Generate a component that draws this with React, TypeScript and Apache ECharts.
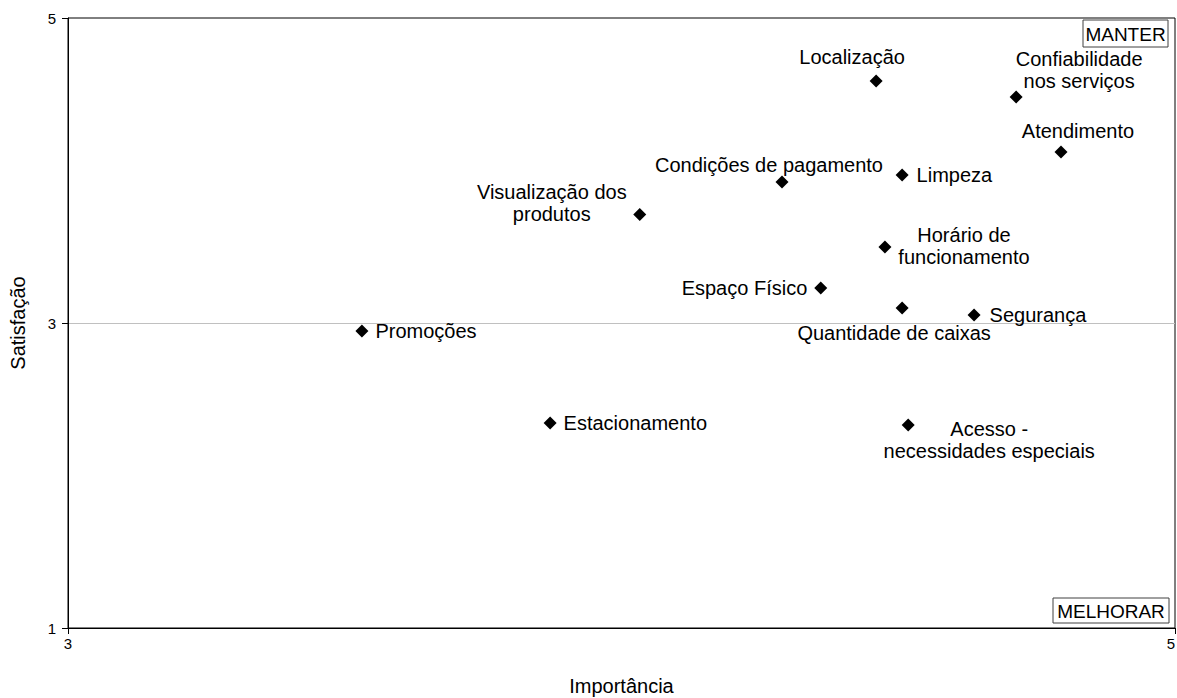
import React, { useEffect, useRef } from "react";
import * as echarts from "echarts";

const attributes: string[] = [
  "Promoções",
  "Estacionamento",
  "Visualização dos\nprodutos",
  "Condições de pagamento",
  "Espaço Físico",
  "Localização",
  "Horário de\nfuncionamento",
  "Limpeza",
  "Quantidade de caixas",
  "Acesso -\nnecessidades especiais",
  "Segurança",
  "Confiabilidade\nnos serviços",
  "Atendimento",
];
const importance: number[] = [3.531, 3.871, 4.033, 4.29, 4.36, 4.46, 4.476, 4.507, 4.507, 4.518, 4.637, 4.713, 4.794];
const satisfaction: number[] = [2.948, 2.344, 3.711, 3.925, 3.23, 4.587, 3.498, 3.97, 3.098, 2.331, 3.052, 4.482, 4.121];
const xTicks = { min: 3, max: 5, step: 2 };
const yTicks = { min: 1, max: 5, step: 2 };

// label placement (style only)
const labelPlacement: any[] = [
  { position: "right", distance: 7 },
  { position: "right", distance: 7 },
  { position: "inside", offset: [-88, -12], align: "center" },
  { position: "inside", offset: [-13, -17], align: "center" },
  { position: "left", distance: 7 },
  { position: "inside", offset: [-24, -24], align: "center" },
  { position: "inside", offset: [79, -1], align: "center" },
  { position: "right", distance: 8 },
  { position: "inside", offset: [-8, 25], align: "center" },
  { position: "inside", offset: [81, 15], align: "center" },
  { position: "right", distance: 9 },
  { position: "inside", offset: [63, -27], align: "center" },
  { position: "inside", offset: [17, -21], align: "center" },
];

const FONT = "'Liberation Sans', Arial, sans-serif";

export default function App() {
  const ref = useRef<HTMLDivElement>(null);
  useEffect(() => {
    document.body.style.margin = "0";
    const chart = echarts.init(ref.current!, null, { renderer: "svg" });
    const data = attributes.map((name, i) => ({
      name,
      value: [importance[i], satisfaction[i]],
      label: {
        show: true,
        formatter: "{b}",
        fontSize: 20,
        lineHeight: 22,
        color: "#000",
        fontFamily: FONT,
        verticalAlign: "middle",
        ...labelPlacement[i],
      },
    }));
    chart.setOption({
      animation: false,
      backgroundColor: "#fff",
      textStyle: { fontFamily: FONT },
      grid: {
        left: 68,
        right: 2,
        top: 18,
        bottom: 70,
        show: true,
        borderColor: "#000",
        borderWidth: 1,
        backgroundColor: "transparent",
        containLabel: false,
        outerBoundsMode: "none",
      },
      xAxis: {
        type: "value",
        min: xTicks.min,
        max: xTicks.max,
        interval: xTicks.step,
        name: "Importância",
        nameLocation: "middle",
        nameGap: 48,
        nameTextStyle: { fontSize: 20, color: "#000", fontFamily: FONT },
        axisLine: { show: true, lineStyle: { color: "#000", width: 1 } },
        axisTick: { show: true, length: 6, lineStyle: { color: "#000" } },
        axisLabel: {
          fontSize: 15,
          color: "#000",
          margin: 8,
          fontFamily: FONT,
          alignMaxLabel: "right",
        },
        splitLine: { show: false },
      },
      yAxis: {
        type: "value",
        min: yTicks.min,
        max: yTicks.max,
        interval: yTicks.step,
        name: "Satisfação",
        nameLocation: "middle",
        nameGap: 40,
        nameRotate: 90,
        nameTextStyle: { fontSize: 20, color: "#000", fontFamily: FONT },
        axisLine: { show: true, lineStyle: { color: "#000", width: 1 } },
        axisTick: { show: true, length: 6, lineStyle: { color: "#000" } },
        axisLabel: { fontSize: 15, color: "#000", margin: 12, fontFamily: FONT },
        splitLine: {
          show: true,
          showMinLine: false,
          showMaxLine: false,
          lineStyle: { color: "#c0c0c0", width: 1 },
        },
      },
      graphic: [
        {
          type: "rect",
          shape: { x: 1083, y: 20, width: 85, height: 27 },
          style: { fill: "#fff", stroke: "#404040", lineWidth: 1 },
          z: 10,
        },
        {
          type: "text",
          x: 1125.5,
          y: 34,
          style: {
            text: "MANTER",
            fontSize: 19,
            fontFamily: FONT,
            fill: "#000",
            align: "center",
            verticalAlign: "middle",
          },
          z: 11,
        },
        {
          type: "rect",
          shape: { x: 1053, y: 598, width: 116, height: 25 },
          style: { fill: "#fff", stroke: "#404040", lineWidth: 1 },
          z: 10,
        },
        {
          type: "text",
          x: 1111,
          y: 611,
          style: {
            text: "MELHORAR",
            fontSize: 19,
            fontFamily: FONT,
            fill: "#000",
            align: "center",
            verticalAlign: "middle",
          },
          z: 11,
        },
      ],
      series: [
        {
          type: "scatter",
          symbol: "diamond",
          symbolSize: 13,
          itemStyle: { color: "#000", opacity: 1 },
          data,
        },
      ],
    });
    return () => chart.dispose();
  }, []);
  return (
    <div
      ref={ref}
      style={{ position: "absolute", left: 0, top: 0, width: 1177, height: 698 }}
    />
  );
}
